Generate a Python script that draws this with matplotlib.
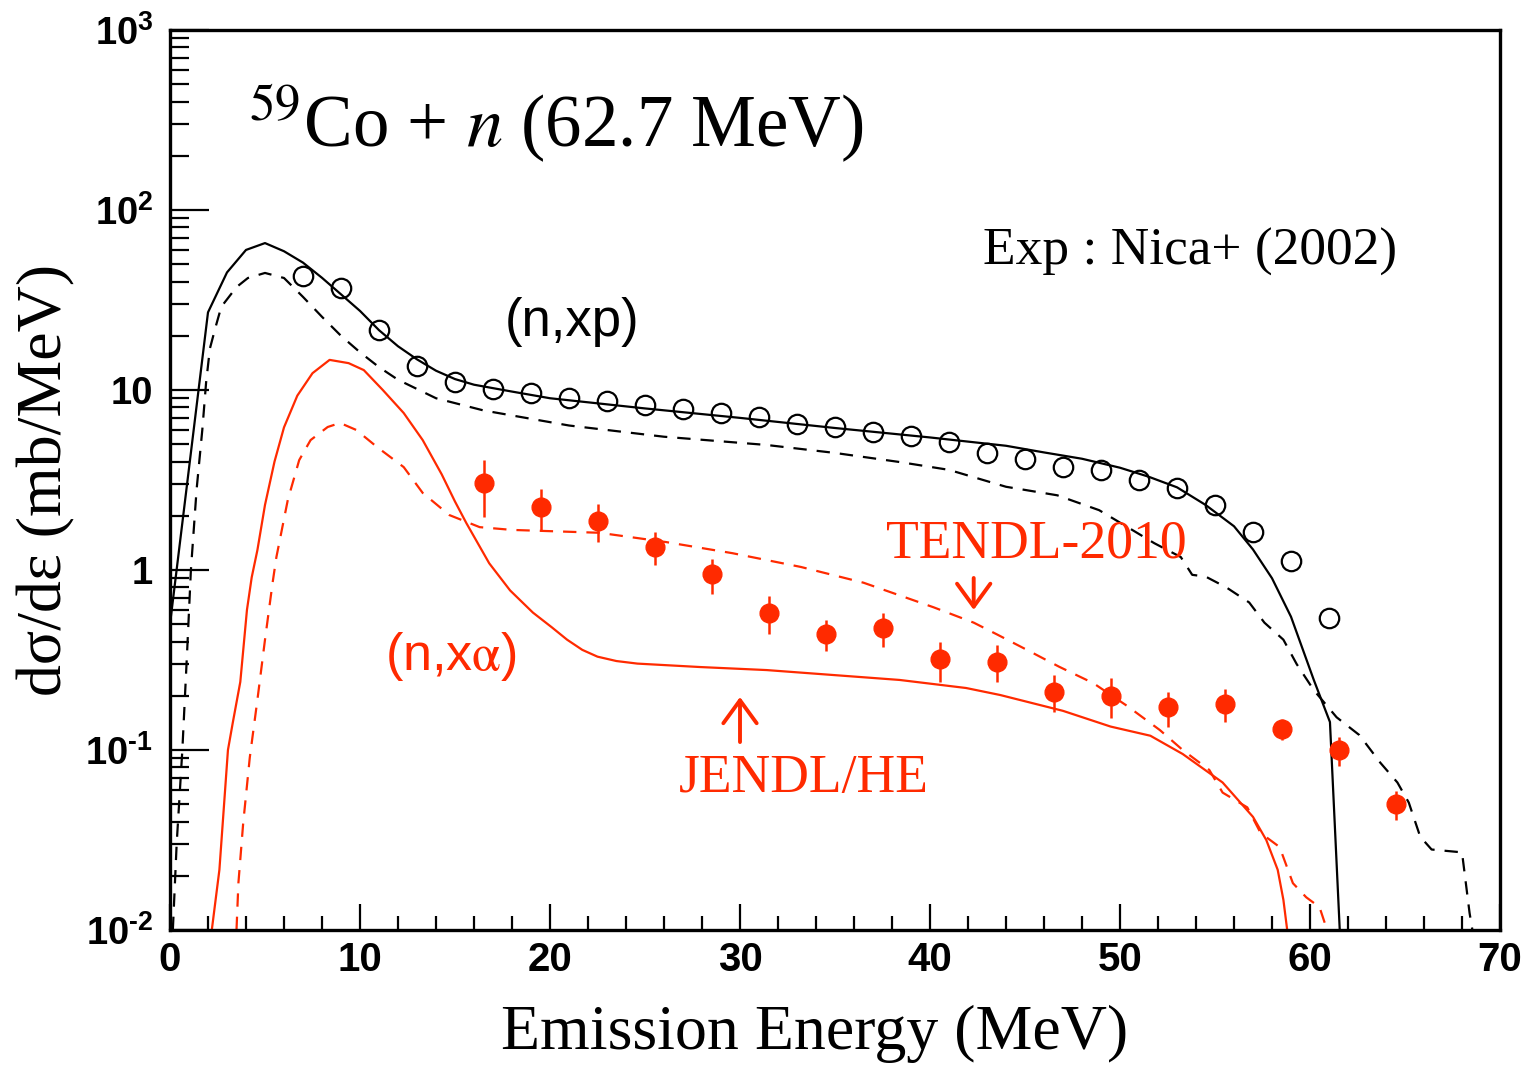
import numpy as np
import matplotlib
matplotlib.use("Agg")
import matplotlib.pyplot as plt
from matplotlib.ticker import MultipleLocator, LogLocator, FuncFormatter, NullFormatter

plt.rcParams['font.family'] = ['Liberation Sans', 'DejaVu Sans']
plt.rcParams['mathtext.fontset'] = 'custom'
plt.rcParams['mathtext.rm'] = 'Liberation Sans:bold'
plt.rcParams['mathtext.bf'] = 'Liberation Sans:bold'
plt.rcParams['mathtext.it'] = 'Liberation Sans:italic:bold'
plt.rcParams['mathtext.default'] = 'rm'

RED = '#ff2a00'

# (n,xp) data, Nica+ (2002)
xp_exp_e = [7, 9, 11, 13, 15, 17, 19, 21, 23, 25, 27, 29, 31, 33, 35,
            37, 39, 41, 43, 45, 47, 49, 51, 53, 55, 57, 59, 61]
xp_exp = [43.0, 36.9, 21.5, 13.6, 11.1, 10.1, 9.6, 9.0, 8.7, 8.25, 7.84,
          7.45, 7.08, 6.47, 6.23, 5.84, 5.55, 5.14, 4.47, 4.14, 3.73, 3.59,
          3.16, 2.86, 2.30, 1.63, 1.12, 0.54]

# (n,xalpha) data with errors
xa_exp_e = [16.5, 19.5, 22.5, 25.5, 28.5, 31.5, 34.5, 37.5, 40.5, 43.5,
            46.5, 49.5, 52.5, 55.5, 58.5, 61.5, 64.5]
xa_exp = [3.03, 2.25, 1.88, 1.34, 0.946, 0.579, 0.441, 0.474, 0.32, 0.31,
          0.211, 0.20, 0.173, 0.181, 0.131, 0.100, 0.050]
xa_err = [1.06, 0.585, 0.45, 0.28, 0.21, 0.14, 0.088, 0.10, 0.08, 0.071,
          0.049, 0.05, 0.038, 0.038, 0.018, 0.018, 0.009]

# JENDL/HE (n,xp)
jhe_p_e = [0, 2, 3, 4, 5, 6, 7, 8, 9, 10, 11, 12, 13, 14, 15, 16, 18, 20,
           25, 30, 35, 40, 44, 46, 48, 50, 51.5, 53, 54.5, 56, 57, 58, 59,
           60.2, 61.05, 61.7]
jhe_p = [0.5, 27, 45, 60, 65.5, 59, 51, 42, 34, 27.5, 21.5, 17.5, 14.8,
         12.8, 11.5, 10.7, 9.8, 9.0, 7.9, 7.0, 6.15, 5.45, 4.9, 4.5, 4.15,
         3.7, 3.3, 2.88, 2.3, 1.75, 1.3, 0.9, 0.55, 0.245, 0.143, 0.005]

# TENDL-2010 (n,xp)
ten_p_e = [0.15, 0.35, 0.65, 0.9, 1.1, 1.4, 1.7, 1.9, 2.1, 2.4, 2.7, 3.5,
           4.1, 5, 6, 7, 8, 9, 10, 11, 12, 14, 16.5, 21, 26, 31.4, 35, 38.4,
           41, 44, 46.7, 48.9, 50.4, 51.8, 53.2, 53.8, 54.5, 55.6, 56.8,
           57.6, 58.6, 59.3, 60.2, 61.4, 62.6, 63.7, 64.6, 65.2, 65.8, 66.4,
           68.0, 68.4, 68.7]
ten_p = [0.01, 0.03, 0.1, 0.35, 1.0, 2.8, 6, 11, 17, 22.4, 29, 37.3, 41.9,
         44.7, 41.9, 32.9, 25.5, 20, 16.2, 13.4, 11.4, 9.0, 7.7, 6.35, 5.5,
         4.95, 4.47, 3.98, 3.6, 2.9, 2.6, 2.15, 1.73, 1.41, 1.18, 0.94, 0.92,
         0.80, 0.66, 0.51, 0.41, 0.30, 0.215, 0.152, 0.121, 0.085, 0.066,
         0.051, 0.033, 0.028, 0.027, 0.0124, 0.008]

# JENDL/HE (n,xalpha)
jhe_a_e = [2.2, 2.6, 3.05, 3.3, 3.7, 4.05, 4.3, 4.6, 5.0, 5.5, 6.0, 6.7,
           7.5, 8.4, 9.4, 10.2, 11.2, 12.3, 13.3, 14.3, 15.0, 15.6, 16.8,
           17.9, 19.1, 20.1, 20.9, 21.7, 22.5, 23.5, 24.6, 27.9, 31.4, 34.9,
           38.4, 41.9, 43.7, 47, 49.5, 51.6, 53.3, 55.4, 57, 57.7, 58.3,
           58.6, 58.8]
jhe_a = [0.01, 0.0216, 0.1, 0.141, 0.239, 0.6, 0.91, 1.29, 2.3, 4.0, 6.2,
         9.3, 12.4, 14.7, 14.1, 12.9, 10, 7.45, 5.27, 3.4, 2.4, 1.82, 1.09,
         0.77, 0.58, 0.48, 0.41, 0.36, 0.33, 0.312, 0.302, 0.289, 0.278,
         0.261, 0.245, 0.221, 0.202, 0.165, 0.135, 0.12, 0.095, 0.066,
         0.0425, 0.0316, 0.0216, 0.0147, 0.01]

# TENDL-2010 (n,xalpha)
ten_a_e = [3.5, 3.6, 3.85, 4.2, 4.6, 5.0, 5.4, 5.6, 6.2, 6.8, 7.4, 8.3,
           8.95, 9.8, 10.9, 12.3, 13.3, 14.7, 16.3, 18, 22.6, 26.1, 29.6,
           33.2, 36.5, 40.2, 42.3, 43.5, 45.1, 46.8, 48.6, 50.4, 52.1, 53.3,
           54.7, 55.4, 56.7, 57.4, 58.4, 59.1, 59.8, 60.5, 60.9]
ten_a = [0.01, 0.0182, 0.039, 0.091, 0.19, 0.41, 0.85, 1.18, 2.45, 4.08,
         5.27, 6.23, 6.56, 6.0, 4.82, 3.73, 2.68, 2.02, 1.73, 1.67, 1.61,
         1.43, 1.24, 1.04, 0.85, 0.62, 0.51, 0.44, 0.36, 0.29, 0.235, 0.175,
         0.129, 0.1, 0.0775, 0.058, 0.048, 0.0346, 0.0289, 0.0182, 0.0152,
         0.0134, 0.01]

fig = plt.figure(figsize=(15.28, 10.66), dpi=100)
ax = fig.add_axes([170 / 1528, 1 - 930 / 1066, 1330 / 1528, 900 / 1066])

dash = (0, (6, 4.5))
ax.plot(jhe_p_e, jhe_p, color='black', lw=1.6)
ax.plot(ten_p_e, ten_p, color='black', lw=1.6, ls=dash)
ax.plot(jhe_a_e, jhe_a, color=RED, lw=1.6)
ax.plot(ten_a_e, ten_a, color=RED, lw=1.6, ls=dash)

ax.plot(xp_exp_e, xp_exp, ls='none', marker='o', ms=14, mfc='none',
        mec='black', mew=1.6)
ax.errorbar(xa_exp_e, xa_exp, yerr=xa_err, fmt='o', ms=13.5, color=RED,
            ecolor=RED, elinewidth=1.8, capsize=0)

ax.set_xlim(0, 70)
ax.set_yscale('log')
ax.set_ylim(1e-2, 1e3)

ax.xaxis.set_major_locator(MultipleLocator(10))
ax.xaxis.set_minor_locator(MultipleLocator(2))
ax.yaxis.set_major_locator(LogLocator(base=10, numticks=10))
ax.yaxis.set_minor_locator(LogLocator(base=10, subs=np.arange(2, 10), numticks=20))
ax.yaxis.set_minor_formatter(NullFormatter())


def ylab(v, pos):
    if abs(v - 1) < 1e-9:
        return '1'
    if abs(v - 10) < 1e-9:
        return '10'
    p = round(np.log10(v))
    if p < 0:
        return '$10^{\u2010%d}$' % -p
    return r'$10^{%d}$' % p


ax.yaxis.set_major_formatter(FuncFormatter(ylab))

ax.tick_params(axis='y', which='major', direction='in', length=28, width=1.6,
               labelsize=27.5, pad=12, right=False)
ax.tick_params(axis='y', which='minor', direction='in', length=14, width=1.6,
               right=False)
ax.tick_params(axis='x', which='major', direction='in', length=19, width=1.6,
               labelsize=29, pad=8, top=False)
ax.tick_params(axis='x', which='minor', direction='in', length=10, width=1.6,
               top=False)
for s in ax.spines.values():
    s.set_linewidth(2.4)

ax.set_xlabel('Emission Energy (MeV)', family='Liberation Serif', fontsize=46)
ax.xaxis.set_label_coords(0.485, -0.083)
ax.set_ylabel('dσ/dε (mb/MeV)', family='Liberation Serif', fontsize=46)
ax.yaxis.set_label_coords(-0.071, 0.5)

ax.text(4.1, 224, r'$^{59}$Co + $\mathit{n}$ (62.7 MeV)', family='Liberation Serif',
        fontsize=52.5, math_fontfamily='stix', va='baseline')
ax.text(42.8, 49.5, 'Exp : Nica+ (2002)', family='Liberation Serif',
        fontsize=38.4, va='baseline')
ax.text(17.6, 23.9, '(n,xp)', fontsize=38, va='center')
ax.text(11.3, 0.329, r'(n,x$\alpha$)', fontsize=37.5, va='center',
        color=RED, math_fontfamily='stix')
ax.text(37.7, 1.18, 'TENDL-2010', family='Liberation Serif', fontsize=38.6,
        va='baseline', color=RED)
ax.text(26.8, 0.0584, 'JENDL/HE', family='Liberation Serif', fontsize=38.6,
        va='baseline', color=RED)

arrow = dict(arrowstyle='->,head_length=0.55,head_width=0.4', color=RED,
             lw=2.8, shrinkA=0, shrinkB=0, mutation_scale=30)
ax.annotate('', xy=(42.3, 0.6), xytext=(42.3, 0.903), arrowprops=arrow)
ax.annotate('', xy=(30.0, 0.197), xytext=(30.0, 0.1107), arrowprops=arrow)

# bold tick numbers
fig.canvas.draw()
for lab in ax.get_xticklabels() + ax.get_yticklabels():
    lab.set_fontweight('bold')

fig.savefig('out.png', dpi=100)
